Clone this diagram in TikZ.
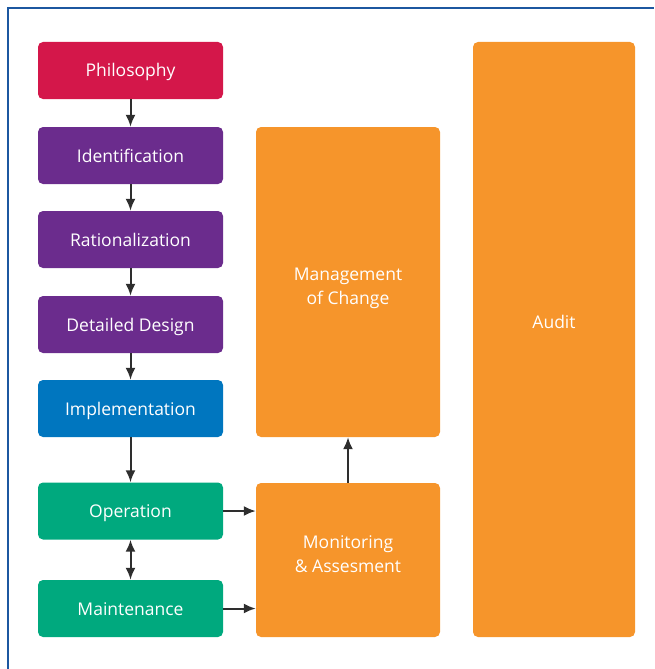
\documentclass[tikz,border=0pt]{standalone}
\usepackage{fontspec}
\setmainfont{Open Sans}
\usetikzlibrary{arrows.meta}
\definecolor{philred}{HTML}{D4174A}
\definecolor{stagepurple}{HTML}{6B2C8D}
\definecolor{implblue}{HTML}{0076BF}
\definecolor{opgreen}{HTML}{00A97E}
\definecolor{mocorange}{HTML}{F6952B}
\definecolor{framebl}{HTML}{1C57A0}
\definecolor{arrowgray}{HTML}{2E2E2E}
\begin{document}
\begin{tikzpicture}[x=1pt, y=-1pt,
    stage/.style={rectangle, rounded corners=5pt, minimum width=185pt, minimum height=57pt, text=white, font=\fontsize{17.5}{24}\selectfont, text height=16pt, text depth=3pt, inner sep=0pt},
    bigbox/.style={rectangle, rounded corners=5pt, fill=mocorange, minimum width=184pt, inner sep=0pt},
    boxtext/.style={text=white, font=\fontsize{17.5}{24}\selectfont, align=center, inner sep=0pt},
    connection/.style={-{Latex[length=12pt, width=10pt]}, draw=arrowgray, line width=2pt}
  ]
    \useasboundingbox (0,0) rectangle (654,669);
    % Frame
    \draw[framebl, line width=1.2pt] (8,669) -- (8,8) -- (654,8);

    % Left column
    \node[stage, fill=philred] (philosophy) at (130.5,70.5) {Philosophy};
    \node[stage, fill=stagepurple] (identification) at (130.5,155.5) {Identification};
    \node[stage, fill=stagepurple] (rationalization) at (130.5,239.5) {Rationalization};
    \node[stage, fill=stagepurple] (design) at (130.5,324.5) {Detailed Design};
    \node[stage, fill=implblue] (implementation) at (130.5,408.5) {Implementation};
    \node[stage, fill=opgreen] (operation) at (130.5,511) {Operation};
    \node[stage, fill=opgreen] (maintenance) at (130.5,608.5) {Maintenance};

    % Right boxes
    \node[bigbox, minimum height=310pt] (change) at (348,282) {};
    \node[boxtext] (changetext) at (348,288) {Management\\of Change};
    \node[bigbox, minimum height=154pt] (monitoring) at (348,560) {};
    \node[boxtext] (monitoringtext) at (348,554.5) {Monitoring\\\& Assesment};
    \node[bigbox, minimum width=162pt, minimum height=595pt] (audit) at (554,339.5) {};
    \node[boxtext, text height=16pt, text depth=3pt] (audittext) at (554,321.5) {Audit};

    % Connections
    \draw[connection] (philosophy) -- (identification);
    \draw[connection] (identification) -- (rationalization);
    \draw[connection] (rationalization) -- (design);
    \draw[connection] (design) -- (implementation);
    \draw[connection] (implementation) -- (operation);
    \draw[connection, {Latex[length=12pt, width=10pt]}-{Latex[length=12pt, width=10pt]}] (operation) -- (maintenance);
    \draw[connection] (operation.east) -- (operation.east -| monitoring.west);
    \draw[connection] (maintenance.east) -- (maintenance.east -| monitoring.west);
    \draw[connection] (monitoring) -- (change);

  \end{tikzpicture}
\end{document}
